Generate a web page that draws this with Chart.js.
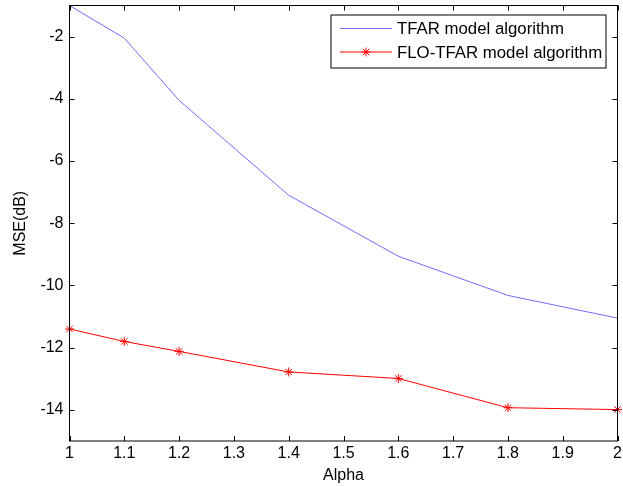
<!DOCTYPE html>
<html>
<head>
<meta charset="utf-8">
<script src="https://cdn.jsdelivr.net/npm/chart.js@4.4.1/dist/chart.umd.min.js"></script>
<style>
  html, body { margin: 0; padding: 0; background: #fff; }
  canvas { display: block; }
</style>
</head>
<body>
<canvas id="mse" width="623" height="486"></canvas>
<script>
// data
const ALPHA    = [1, 1.1, 1.2, 1.4, 1.6, 1.8, 2];
const TFAR     = [-1.0, -2.05, -4.05, -7.1, -9.06, -10.32, -11.05];
const FLO_TFAR = [-11.4, -11.8, -12.12, -12.78, -12.99, -13.93, -13.99];
const X_TICKS  = [1, 1.1, 1.2, 1.3, 1.4, 1.5, 1.6, 1.7, 1.8, 1.9, 2];
const Y_TICKS  = [-14, -12, -10, -8, -6, -4, -2];

const FONT = { family: "'Liberation Sans', Arial, Helvetica, sans-serif", size: 16, lineHeight: 1.2 };
const LEGEND_SIZE = 16.8;
const INK = "#000";

const pts = ys => ALPHA.map((x, i) => ({ x, y: ys[i] }));

// the axes sit at fixed sizes; drop the half-label overhang chart.js adds
const noOverhang = s => {
  s.paddingLeft = s.paddingRight = s.paddingTop = s.paddingBottom = 0;
};

// MATLAB-style boxed axes with inward ticks, plus the boxed legend in the corner
const matlabFrame = {
  id: "matlabFrame",
  afterDraw(chart) {
    const { ctx, chartArea: a, scales } = chart;
    const tick = 5;
    ctx.save();
    ctx.strokeStyle = INK;
    ctx.lineWidth = 1;
    ctx.beginPath();
    for (const v of X_TICKS) {
      const px = Math.round(scales.x.getPixelForValue(v)) + 0.5;
      ctx.moveTo(px, a.bottom); ctx.lineTo(px, a.bottom - tick);
      ctx.moveTo(px, a.top);    ctx.lineTo(px, a.top + tick);
    }
    for (const v of Y_TICKS) {
      const py = Math.round(scales.y.getPixelForValue(v)) + 0.5;
      ctx.moveTo(a.left, py);  ctx.lineTo(a.left + tick, py);
      ctx.moveTo(a.right, py); ctx.lineTo(a.right - tick, py);
    }
    ctx.stroke();
    ctx.strokeRect(a.left, a.top, a.right - a.left, a.bottom - a.top);

    // legend
    const box = { x: a.right - 286.5, y: a.top + 9.5, w: 275, h: 53 };
    ctx.fillStyle = "#fff";
    ctx.fillRect(box.x, box.y, box.w, box.h);
    ctx.strokeRect(box.x, box.y, box.w, box.h);
    ctx.font = `${LEGEND_SIZE}px ${FONT.family}`;
    ctx.textBaseline = "middle";
    chart.data.datasets.forEach((ds, i) => {
      const cy = box.y + 13.5 + i * 23.5;
      const x0 = box.x + 9, x1 = box.x + 61;
      ctx.strokeStyle = ds.borderColor;
      ctx.beginPath();
      ctx.moveTo(x0, cy); ctx.lineTo(x1, cy);
      ctx.stroke();
      if (ds.pointRadius > 0) {
        Chart.helpers.drawPoint(ctx, {
          pointStyle: ds.pointStyle, radius: ds.pointRadius,
          borderWidth: 1, rotation: 0,
        }, (x0 + x1) / 2, cy);
      }
      ctx.fillStyle = INK;
      ctx.fillText(ds.label, box.x + 66, cy + 1);
    });
    ctx.restore();
  },
};

new Chart(document.getElementById("mse"), {
  type: "line",
  data: {
    datasets: [
      {
        label: "TFAR model algorithm",
        data: pts(TFAR),
        borderColor: "rgb(110,110,255)",
        borderWidth: 1,
        pointRadius: 0,
        tension: 0,
      },
      {
        label: "FLO-TFAR model algorithm",
        data: pts(FLO_TFAR),
        borderColor: "#ff0000",
        backgroundColor: "#ff0000",
        borderWidth: 1,
        pointStyle: "star",
        pointRadius: 4.5,
        pointBorderWidth: 1,
        tension: 0,
        clip: 8,
      },
    ],
  },
  options: {
    responsive: false,
    animation: false,
    layout: { padding: { left: 0, right: 2.5, top: 5.5, bottom: 0 } },
    plugins: { legend: { display: false }, tooltip: { enabled: false } },
    scales: {
      x: {
        type: "linear",
        min: 1, max: 2,
        afterBuildTicks: s => { s.ticks = X_TICKS.map(value => ({ value })); },
        afterFit: s => { s.height = 45; noOverhang(s); },
        grid: { display: false, drawTicks: false },
        border: { display: false },
        ticks: {
          color: INK, font: FONT, padding: 3, maxRotation: 0,
          callback: v => String(+v.toFixed(1)),
        },
        title: { display: true, text: "Alpha", color: INK, font: FONT, padding: { top: 0, bottom: 1 } },
      },
      y: {
        type: "linear",
        min: -15, max: -1,
        afterBuildTicks: s => { s.ticks = Y_TICKS.map(value => ({ value })); },
        afterFit: s => { s.width = 69.5; noOverhang(s); },
        grid: { display: false, drawTicks: false },
        border: { display: false },
        ticks: { color: INK, font: FONT, padding: 6, callback: v => String(v) },
        title: { display: true, text: "MSE(dB)", color: INK, font: FONT, padding: { top: 11, bottom: 0 } },
      },
    },
  },
  plugins: [matlabFrame],
});
</script>
</body>
</html>
